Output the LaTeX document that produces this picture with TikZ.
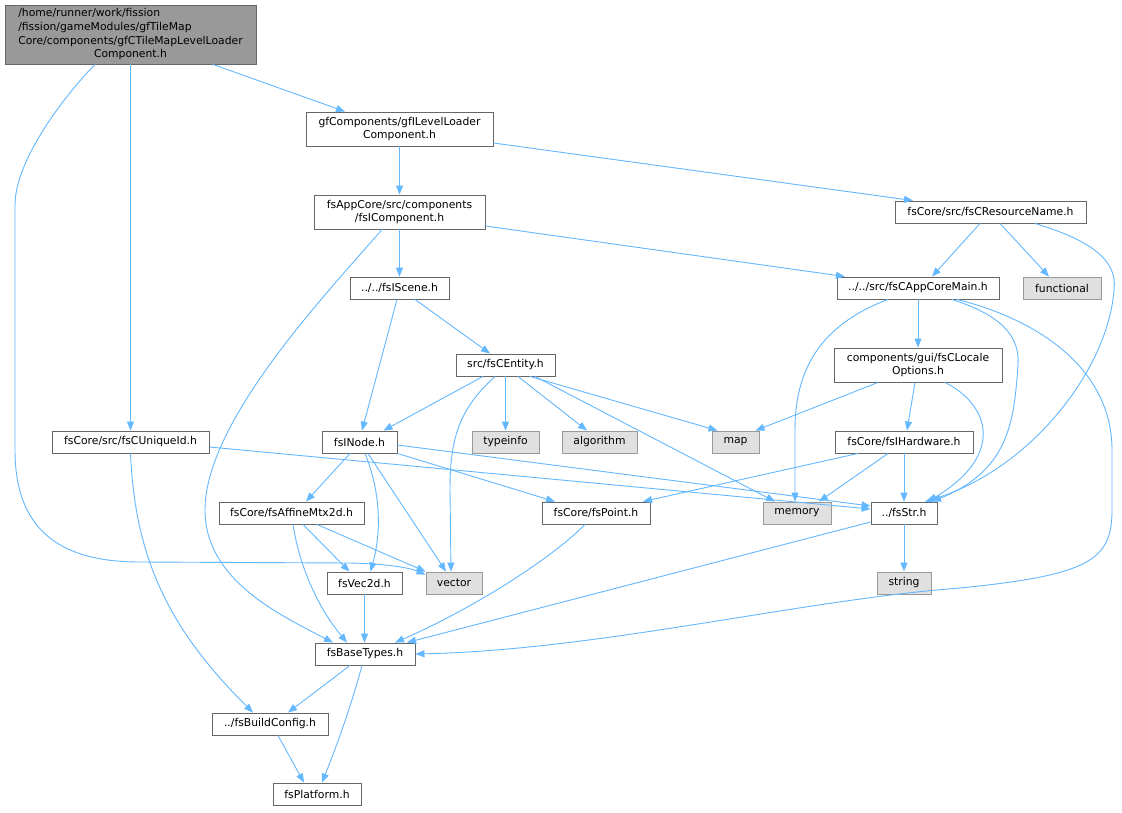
\documentclass[tikz,border=0pt]{standalone}
\usepackage{fontspec}
\setmainfont{DejaVu Sans}
\usetikzlibrary{arrows.meta}
\definecolor{edgec}{HTML}{63B8FF}
\definecolor{bord}{HTML}{666666}
\definecolor{gbord}{HTML}{999999}
\definecolor{gfill}{HTML}{E0E0E0}
\definecolor{rootfill}{HTML}{999999}
\begin{document}
\begin{tikzpicture}[x=1pt,y=-1pt,
  box/.style={rectangle, draw=bord, fill=white, line width=0.9pt, inner sep=0pt, align=center, font=\fontsize{10.8}{13.6}\selectfont, text=black},
  sys/.style={box, draw=gbord, fill=gfill},
  rootbox/.style={box, fill=rootfill},
  sz/.style 2 args={minimum width=#1pt, minimum height=#2pt},
  edge/.style={draw=edgec, line width=0.9pt, -{Triangle[length=9pt,width=7pt]}}]
\useasboundingbox[fill=white] (0,0) rectangle (1122,812);

% nodes
\node[rootbox, sz={251}{59}] (root) at (130.5,34.5) {\begin{tabular}{@{}l@{}}/home/runner/work/fission\\/fission/gameModules/gfTileMap\\Core/components/gfCTileMapLevelLoader\\\multicolumn{1}{@{}c@{}}{Component.h}\end{tabular}};
\node[box, sz={187}{34}] (gfL) at (399.5,129) {gfComponents/gfILevelLoader\\Component.h};
\node[box, sz={171}{34}] (comp) at (399.5,212) {fsAppCore/src/components\\/fsIComponent.h};
\node[box, sz={191}{22}] (res) at (990.5,212) {fsCore/src/fsCResourceName.h};
\node[box, sz={99}{22}] (scene) at (399.5,288) {../../fsIScene.h};
\node[box, sz={162}{22}] (app) at (918,288) {../../src/fsCAppCoreMain.h};
\node[sys, sz={78}{22}] (functional) at (1062,288) {functional};
\node[box, sz={99}{22}] (entity) at (505.5,365) {src/fsCEntity.h};
\node[box, sz={168}{34}] (locale) at (918,365) {components/gui/fsCLocale\\Options.h};
\node[box, sz={157}{22}] (uniq) at (130.5,442) {fsCore/src/fsCUniqueId.h};
\node[box, sz={75}{22}] (inode) at (359.5,442) {fsINode.h};
\node[sys, sz={67}{22}] (typeinfo) at (505.5,442) {typeinfo};
\node[sys, sz={75}{22}] (algorithm) at (599.5,442) {algorithm};
\node[sys, sz={47}{22}] (map) at (735.5,442) {map};
\node[box, sz={138}{22}] (hw) at (904,442) {fsCore/fsIHardware.h};
\node[box, sz={145}{22}] (affine) at (291.5,513) {fsCore/fsAffineMtx2d.h};
\node[box, sz={108}{22}] (point) at (596,513) {fsCore/fsPoint.h};
\node[sys, sz={68}{22}] (memory) at (797,513) {memory};
\node[box, sz={66}{22}] (str) at (904,513) {../fsStr.h};
\node[box, sz={75}{22}] (vec) at (364.5,583) {fsVec2d.h};
\node[sys, sz={56}{22}] (vector) at (454,583) {vector};
\node[sys, sz={54}{22}] (string) at (904,583) {string};
\node[box, sz={100}{22}] (base) at (365,654) {fsBaseTypes.h};
\node[box, sz={116}{22}] (build) at (270,724) {../fsBuildConfig.h};
\node[box, sz={88}{22}] (plat) at (317,794) {fsPlatform.h};

% edges
\draw[edge] ([xshift=82.5pt]root.south) -- ([xshift=-54.5pt]gfL.north);
\draw[edge] (root.south) -- (uniq.north);
\draw[edge] ([xshift=-35.5pt]root.south) .. controls (65,95) and (15,160) .. (15,205) -- (15,450) .. controls (15,530) and (60,562) .. (140,562) -- (350,563) .. controls (390,564) and (410,568) .. ([yshift=-3pt]vector.north west);

\draw[edge] (gfL.south) -- (comp.north);
\draw[edge] ([yshift=-14pt]gfL.east) -- ([xshift=-77.5pt]res.north);

\draw[edge] (comp.south) -- (scene.north);
\draw[edge] ([yshift=-14pt]comp.east) -- ([xshift=-73pt]app.north);
\draw[edge] ([xshift=-17.5pt]comp.south) .. controls (330,290) and (205,420) .. (205,510) .. controls (205,580) and (280,615) .. ([xshift=-32pt]base.north);

\draw[edge] ([xshift=-10.5pt]res.south) -- ([xshift=14pt]app.north);
\draw[edge] ([xshift=9.5pt]res.south) -- ([xshift=-13pt]functional.north);
\draw[edge] ([xshift=44.5pt]res.south) .. controls (1090,240) and (1118,260) .. (1114,290) .. controls (1108,370) and (1030,470) .. ([xshift=21pt]str.north);

\draw[edge] ([xshift=-2.5pt]scene.south) -- ([xshift=2.5pt]inode.north);
\draw[edge] ([xshift=15.5pt]scene.south) -- ([xshift=-15.5pt]entity.north);

\draw[edge] (app.south) -- (locale.north);
\draw[edge] ([xshift=-30pt]app.south) .. controls (820,325) and (795,370) .. (795,430) -- ([xshift=-2pt]memory.north);
\draw[edge] ([xshift=34pt]app.south) .. controls (1000,315) and (1020,335) .. (1018,365) .. controls (1014,420) and (1010,470) .. ([xshift=28pt]str.north);
\draw[edge] ([xshift=39pt]app.south) .. controls (1040,320) and (1112,370) .. (1112,450) -- (1112,510) .. controls (1112,560) and (1090,575) .. (960,588) .. controls (800,600) and (600,650) .. (base.east);

\draw[edge] ([xshift=-22.5pt]entity.south) -- ([xshift=24pt]inode.north);
\draw[edge] (entity.south) -- (typeinfo.north);
\draw[edge] ([xshift=12.5pt]entity.south) -- ([xshift=-12.5pt]algorithm.north);
\draw[edge] ([xshift=24.5pt]entity.south) -- ([xshift=-18pt]map.north);
\draw[edge] ([xshift=29.5pt]entity.south) -- ([xshift=-22pt]memory.north);
\draw[edge] ([xshift=-10.5pt]entity.south) .. controls (458,410) and (450,440) .. (450,490) -- ([xshift=-3pt]vector.north);

\draw[edge] ([xshift=-40pt]locale.south) -- ([xshift=20pt]map.north);
\draw[edge] ([xshift=-3pt]locale.south) -- ([xshift=3pt]hw.north);
\draw[edge] ([xshift=27pt]locale.south) .. controls (990,405) and (1005,455) .. ([xshift=24pt]str.north);

\draw[edge] ([yshift=-5pt]uniq.east) -- ([yshift=4pt]str.west);
\draw[edge] (uniq.south) .. controls (135,560) and (170,630) .. ([xshift=-17pt]build.north);

\draw[edge] ([xshift=-9.5pt]inode.south) -- ([xshift=14.5pt]affine.north);
\draw[edge] ([xshift=5.5pt]inode.south) .. controls (380,490) and (382,530) .. ([xshift=6pt]vec.north);
\draw[edge] ([xshift=8.5pt]inode.south) -- ([xshift=-8pt]vector.north);
\draw[edge] (inode.south east) -- ([xshift=-41pt]point.north);
\draw[edge] ([yshift=-3pt]inode.east) -- ([yshift=7pt]str.west);

\draw[edge] ([xshift=-46pt]hw.south) -- ([xshift=47pt]point.north);
\draw[edge] ([xshift=-16pt]hw.south) -- ([xshift=22pt]memory.north);
\draw[edge] (hw.south) -- (str.north);

\draw[edge] ([xshift=11.5pt]affine.south) -- ([xshift=-15pt]vec.north);
\draw[edge] ([xshift=25.5pt]affine.south) -- (vector.north west);
\draw[edge] ([xshift=1.5pt]affine.south) .. controls (300,570) and (320,610) .. ([xshift=-18pt]base.north);

\draw[edge] ([xshift=-11pt]point.south) .. controls (550,560) and (470,610) .. ([xshift=30pt]base.north);

\draw[edge] ([yshift=-9pt]str.west) -- ([xshift=42pt]base.north);
\draw[edge] (str.south) -- (string.north);

\draw[edge] (vec.south) -- ([xshift=-0.5pt]base.north);

\draw[edge] ([xshift=-15pt]base.south) -- ([xshift=18pt]build.north);
\draw[edge] ([xshift=-3pt]base.south) .. controls (350,710) and (335,750) .. ([xshift=5pt]plat.north);

\draw[edge] ([xshift=8pt]build.south) -- ([xshift=-13pt]plat.north);
\end{tikzpicture}
\end{document}
